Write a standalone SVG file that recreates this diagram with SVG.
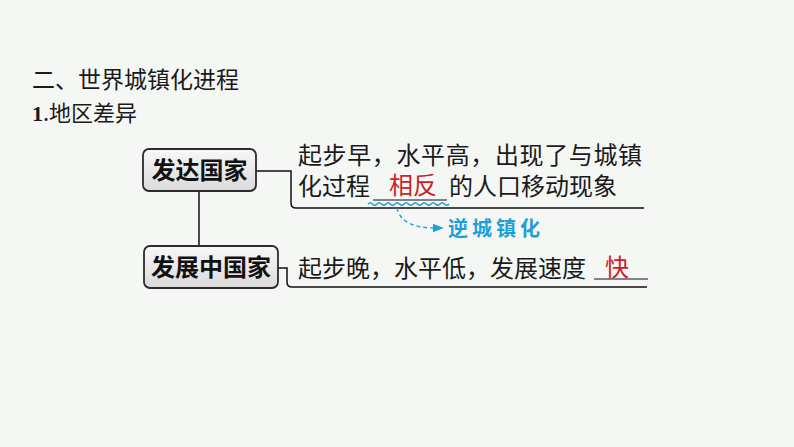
<svg xmlns="http://www.w3.org/2000/svg" width="794" height="447" viewBox="0 0 794 447">
  <defs>
    <linearGradient id="boxfill" x1="0" y1="0" x2="0" y2="1">
      <stop offset="0" stop-color="#f8f8f8"/>
      <stop offset="1" stop-color="#dadada"/>
    </linearGradient>
    <marker id="arrow" viewBox="0 0 10 10" refX="2" refY="5" markerWidth="11" markerHeight="11" markerUnits="userSpaceOnUse" orient="auto">
      <path d="M0,1 L10,5 L0,9 Z" fill="#1e9fd8"/>
    </marker>
    <style>
      .t { font-family: "Noto Sans CJK SC", "Noto Sans", sans-serif; fill: #1a1a1a; }
      .body { font-size: 24px; }
      .red { fill: #cc2229; }
      .box { fill: url(#boxfill); stroke: #2b2b2b; stroke-width: 1.8; }
      .boxt { font-family: "Noto Sans CJK SC", sans-serif; font-size: 24px; font-weight: bold; fill: #111; text-anchor: middle; }
      .ln { fill: none; stroke: #111; stroke-width: 1.5; }
      .ul { fill: none; stroke: #111; stroke-width: 1.2; }
      .blue { fill: none; stroke: #1e9fd8; stroke-width: 1.4; }
    </style>
  </defs>
  <rect width="794" height="447" fill="#f4f7f4"/>

  <text class="t" x="32" y="88" font-size="23">二、世界城镇化进程</text>
  <text class="t" x="32" y="121" font-size="22"><tspan font-family="Liberation Serif, serif" font-weight="bold">1</tspan><tspan>.地区差异</tspan></text>

  <g id="connectors">
    <line class="ln" x1="199" y1="191" x2="199" y2="246"/>
    <path class="ln" d="M256,171 H291 V203 Q291,208 296,208 H644"/>
    <path class="ln" d="M278,268 H287 V282 Q287,287 292,287 H647"/>
    <path class="blue" d="M368,204 q2.25,-2.6 4.5,0 t4.5,0 t4.5,0 t4.5,0 t4.5,0 t4.5,0 t4.5,0 t4.5,0 t4.5,0 t4.5,0 t4.5,0 t4.5,0 t4.5,0 t4.5,0 t4.5,0 t4.5,0 t4.5,0 t4.5,0"/>
    <path class="blue" d="M397,208 C400,222 414,228 435,228" stroke-dasharray="4,3" marker-end="url(#arrow)"/>
  </g>

  <g id="node-developed">
    <rect class="box" x="143" y="149" width="113" height="42" rx="6"/>
    <text class="boxt" x="199.5" y="179">发达国家</text>
  </g>
  <g id="node-developing">
    <rect class="box" x="144" y="246" width="134" height="42" rx="6"/>
    <text class="boxt" x="211" y="276">发展中国家</text>
  </g>

  <g id="text-developed">
    <text class="t body" x="298" y="164" textLength="344">起步早，水平高，出现了与城镇</text>
    <text class="t body" x="298" y="195">化过程</text>
    <line class="ul" x1="373" y1="200" x2="447" y2="200"/>
    <text class="t body red" x="389" y="194">相反</text>
    <text class="t body" x="449" y="195">的人口移动现象</text>
    <text class="t" x="448" y="236" font-size="20" font-weight="bold" letter-spacing="4" style="fill:#1e9fd8">逆城镇化</text>
  </g>

  <g id="text-developing">
    <text class="t body" x="298" y="277">起步晚，水平低，发展速度</text>
    <line class="ul" x1="594" y1="279" x2="648" y2="279"/>
    <text class="t body red" x="605" y="276">快</text>
  </g>
</svg>
